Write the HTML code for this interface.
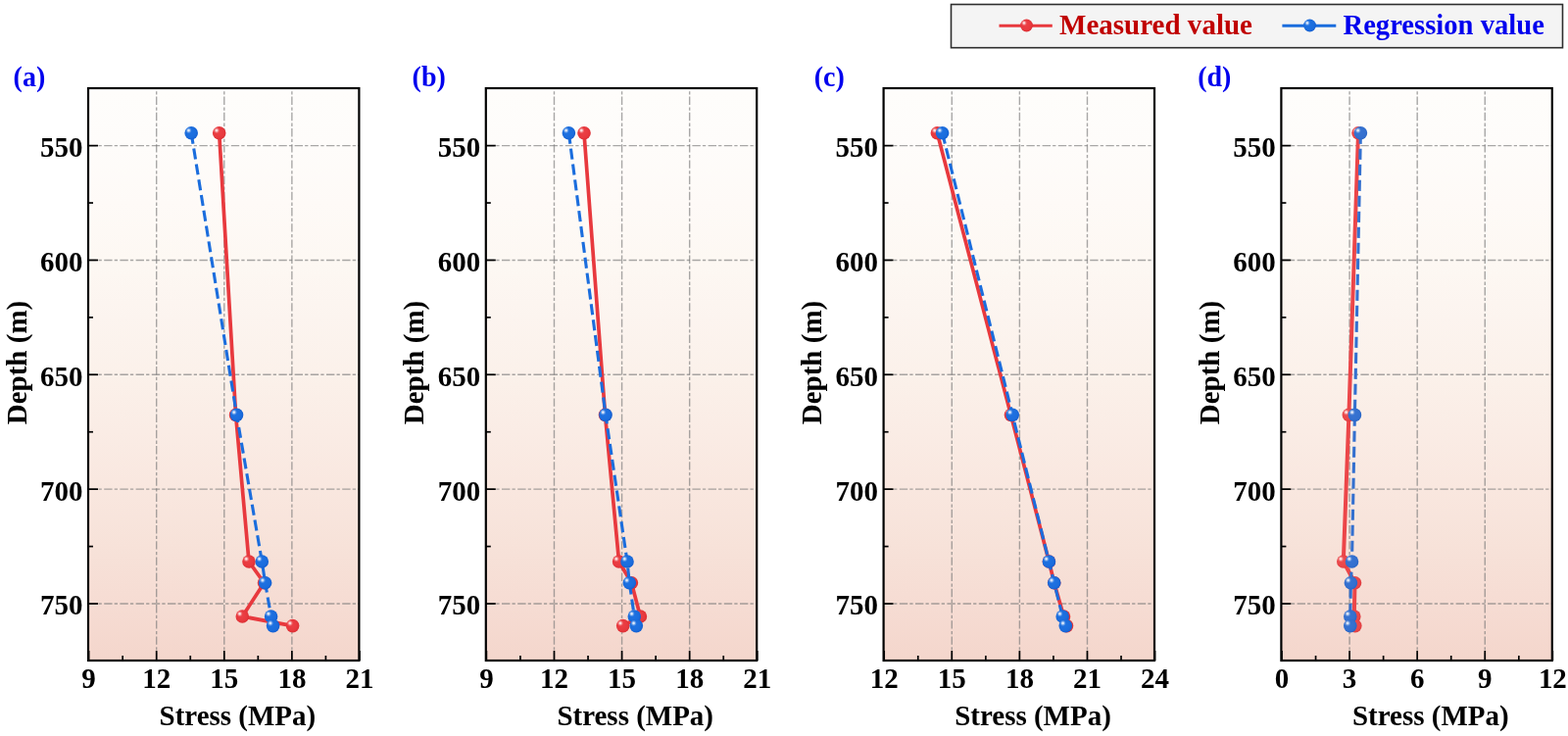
<!DOCTYPE html><html><head><meta charset="utf-8"><style>html,body{margin:0;padding:0;background:#fff;width:1600px;height:751px;overflow:hidden}svg{display:block}text{font-family:"Liberation Serif","Times New Roman",serif;font-weight:bold}</style></head><body>
<svg width="1600" height="751" viewBox="0 0 1600 751">
<defs>
<linearGradient id="bg" x1="0" y1="0" x2="0" y2="1"><stop offset="0.00" stop-color="rgb(254,253,251)"/><stop offset="0.10" stop-color="rgb(254,252,250)"/><stop offset="0.20" stop-color="rgb(254,250,247)"/><stop offset="0.30" stop-color="rgb(253,248,243)"/><stop offset="0.40" stop-color="rgb(252,244,239)"/><stop offset="0.50" stop-color="rgb(251,241,234)"/><stop offset="0.60" stop-color="rgb(250,236,229)"/><stop offset="0.70" stop-color="rgb(249,231,223)"/><stop offset="0.80" stop-color="rgb(247,226,217)"/><stop offset="0.90" stop-color="rgb(246,220,211)"/><stop offset="1.00" stop-color="rgb(244,214,204)"/></linearGradient>
<radialGradient id="gr" cx="0.45" cy="0.45" r="0.55"><stop offset="0" stop-color="#ec4146"/><stop offset="0.7" stop-color="#e8393e"/><stop offset="1" stop-color="#dc2f34"/></radialGradient>
<radialGradient id="gb" cx="0.45" cy="0.45" r="0.55"><stop offset="0" stop-color="#1f72e2"/><stop offset="0.7" stop-color="#1b6ddd"/><stop offset="1" stop-color="#135fd2"/></radialGradient>
<radialGradient id="gr2" cx="0.45" cy="0.45" r="0.55"><stop offset="0" stop-color="#ee4d50"/><stop offset="0.7" stop-color="#ea474a"/><stop offset="1" stop-color="#e03c40"/></radialGradient>
<radialGradient id="gb2" cx="0.45" cy="0.45" r="0.55"><stop offset="0" stop-color="#3874d2"/><stop offset="0.7" stop-color="#3470cf"/><stop offset="1" stop-color="#2a66c6"/></radialGradient>
<radialGradient id="hl" cx="0.5" cy="0.5" r="0.5"><stop offset="0" stop-color="#fff" stop-opacity="0.95"/><stop offset="0.3" stop-color="#fff" stop-opacity="0.75"/><stop offset="0.6" stop-color="#fff" stop-opacity="0.3"/><stop offset="1" stop-color="#fff" stop-opacity="0"/></radialGradient>
</defs>
<rect x="970.5" y="4.5" width="624" height="44.2" fill="#f4f4f4" stroke="#2e2e2e" stroke-width="1.6"/>
<line x1="1019.5" y1="26.2" x2="1073.8" y2="26.2" stroke="#e8393e" stroke-width="2.9"/>
<circle cx="1047.50" cy="26.00" r="6.4" fill="url(#gr)"/><circle cx="1044.94" cy="23.44" r="3.01" fill="url(#hl)"/>
<text transform="translate(1081,35.2) scale(1,1.02)" font-size="28.9" fill="#c00000" textLength="197" lengthAdjust="spacingAndGlyphs">Measured value</text>
<line x1="1308.4" y1="26.2" x2="1363.3" y2="26.2" stroke="#1b6ddd" stroke-width="2.9"/>
<circle cx="1336.50" cy="26.00" r="6.4" fill="url(#gb)"/><circle cx="1333.94" cy="23.44" r="3.01" fill="url(#hl)"/>
<text transform="translate(1370.5,35.2) scale(1,1.02)" font-size="28.9" fill="#0000ee" textLength="205.4" lengthAdjust="spacingAndGlyphs">Regression value</text>
<rect x="90" y="90" width="276.4" height="584" fill="url(#bg)"/>
<line x1="159.69" y1="674" x2="159.69" y2="90" stroke="#7a7a7a" stroke-opacity="0.65" stroke-width="1.4" stroke-dasharray="8.4 2.1 3.3 2.4"/>
<line x1="228.78" y1="674" x2="228.78" y2="90" stroke="#7a7a7a" stroke-opacity="0.65" stroke-width="1.4" stroke-dasharray="8.4 2.1 3.3 2.4"/>
<line x1="297.87" y1="674" x2="297.87" y2="90" stroke="#7a7a7a" stroke-opacity="0.65" stroke-width="1.4" stroke-dasharray="8.4 2.1 3.3 2.4"/>
<line x1="90" y1="148.60" x2="366.4" y2="148.60" stroke="#7a7a7a" stroke-opacity="0.65" stroke-width="1.4" stroke-dasharray="8.4 2.1 3.3 2.4"/>
<line x1="90" y1="265.45" x2="366.4" y2="265.45" stroke="#7a7a7a" stroke-opacity="0.65" stroke-width="1.4" stroke-dasharray="8.4 2.1 3.3 2.4"/>
<line x1="90" y1="382.30" x2="366.4" y2="382.30" stroke="#7a7a7a" stroke-opacity="0.65" stroke-width="1.4" stroke-dasharray="8.4 2.1 3.3 2.4"/>
<line x1="90" y1="499.15" x2="366.4" y2="499.15" stroke="#7a7a7a" stroke-opacity="0.65" stroke-width="1.4" stroke-dasharray="8.4 2.1 3.3 2.4"/>
<line x1="90" y1="616.00" x2="366.4" y2="616.00" stroke="#7a7a7a" stroke-opacity="0.65" stroke-width="1.4" stroke-dasharray="8.4 2.1 3.3 2.4"/>
<line x1="90.60" y1="674" x2="90.60" y2="664" stroke="#000" stroke-width="1.7"/>
<text transform="translate(90.60,702.3) scale(1,1.045)" font-size="29" text-anchor="middle" fill="#000">9</text>
<line x1="159.69" y1="674" x2="159.69" y2="664" stroke="#000" stroke-width="1.7"/>
<text transform="translate(159.69,702.3) scale(1,1.045)" font-size="29" text-anchor="middle" fill="#000">12</text>
<line x1="228.78" y1="674" x2="228.78" y2="664" stroke="#000" stroke-width="1.7"/>
<text transform="translate(228.78,702.3) scale(1,1.045)" font-size="29" text-anchor="middle" fill="#000">15</text>
<line x1="297.87" y1="674" x2="297.87" y2="664" stroke="#000" stroke-width="1.7"/>
<text transform="translate(297.87,702.3) scale(1,1.045)" font-size="29" text-anchor="middle" fill="#000">18</text>
<line x1="366.96" y1="674" x2="366.96" y2="664" stroke="#000" stroke-width="1.7"/>
<text transform="translate(366.96,702.3) scale(1,1.045)" font-size="29" text-anchor="middle" fill="#000">21</text>
<line x1="125.14" y1="674" x2="125.14" y2="669" stroke="#000" stroke-width="1.7"/>
<line x1="194.24" y1="674" x2="194.24" y2="669" stroke="#000" stroke-width="1.7"/>
<line x1="263.33" y1="674" x2="263.33" y2="669" stroke="#000" stroke-width="1.7"/>
<line x1="332.41" y1="674" x2="332.41" y2="669" stroke="#000" stroke-width="1.7"/>
<line x1="90" y1="148.60" x2="100" y2="148.60" stroke="#000" stroke-width="1.7"/>
<text transform="translate(84.40,160.00) scale(1,1.045)" font-size="29" text-anchor="end" fill="#000">550</text>
<line x1="90" y1="265.45" x2="100" y2="265.45" stroke="#000" stroke-width="1.7"/>
<text transform="translate(84.40,276.85) scale(1,1.045)" font-size="29" text-anchor="end" fill="#000">600</text>
<line x1="90" y1="382.30" x2="100" y2="382.30" stroke="#000" stroke-width="1.7"/>
<text transform="translate(84.40,393.70) scale(1,1.045)" font-size="29" text-anchor="end" fill="#000">650</text>
<line x1="90" y1="499.15" x2="100" y2="499.15" stroke="#000" stroke-width="1.7"/>
<text transform="translate(84.40,510.55) scale(1,1.045)" font-size="29" text-anchor="end" fill="#000">700</text>
<line x1="90" y1="616.00" x2="100" y2="616.00" stroke="#000" stroke-width="1.7"/>
<text transform="translate(84.40,627.40) scale(1,1.045)" font-size="29" text-anchor="end" fill="#000">750</text>
<line x1="90" y1="207.03" x2="95" y2="207.03" stroke="#000" stroke-width="1.7"/>
<line x1="90" y1="323.88" x2="95" y2="323.88" stroke="#000" stroke-width="1.7"/>
<line x1="90" y1="440.73" x2="95" y2="440.73" stroke="#000" stroke-width="1.7"/>
<line x1="90" y1="557.58" x2="95" y2="557.58" stroke="#000" stroke-width="1.7"/>
<rect x="90" y="90" width="276.4" height="584" fill="none" stroke="#000" stroke-width="2.2"/>
<polyline points="223.70,135.80 240.60,423.40 254.00,573.00 269.50,594.80 247.30,629.00 298.60,638.60" fill="none" stroke="#e8393e" stroke-width="3.7" stroke-linejoin="round"/>
<circle cx="223.70" cy="135.80" r="6.8" fill="url(#gr)"/><circle cx="220.98" cy="133.08" r="3.20" fill="url(#hl)"/>
<circle cx="240.60" cy="423.40" r="6.8" fill="url(#gr)"/><circle cx="237.88" cy="420.68" r="3.20" fill="url(#hl)"/>
<circle cx="254.00" cy="573.00" r="6.8" fill="url(#gr)"/><circle cx="251.28" cy="570.28" r="3.20" fill="url(#hl)"/>
<circle cx="269.50" cy="594.80" r="6.8" fill="url(#gr)"/><circle cx="266.78" cy="592.08" r="3.20" fill="url(#hl)"/>
<circle cx="247.30" cy="629.00" r="6.8" fill="url(#gr)"/><circle cx="244.58" cy="626.28" r="3.20" fill="url(#hl)"/>
<circle cx="298.60" cy="638.60" r="6.8" fill="url(#gr)"/><circle cx="295.88" cy="635.88" r="3.20" fill="url(#hl)"/>
<polyline points="195.20,135.80 241.50,423.40 267.30,573.00 270.60,594.80 276.60,629.00 278.60,638.60" fill="none" stroke="#1b6ddd" stroke-width="3.1" stroke-dasharray="11.1 4.9" stroke-linejoin="round"/>
<circle cx="195.20" cy="135.80" r="6.8" fill="url(#gb)"/><circle cx="192.48" cy="133.08" r="3.20" fill="url(#hl)"/>
<circle cx="241.50" cy="423.40" r="6.8" fill="url(#gb)"/><circle cx="238.78" cy="420.68" r="3.20" fill="url(#hl)"/>
<circle cx="267.30" cy="573.00" r="6.8" fill="url(#gb)"/><circle cx="264.58" cy="570.28" r="3.20" fill="url(#hl)"/>
<circle cx="270.60" cy="594.80" r="6.8" fill="url(#gb)"/><circle cx="267.88" cy="592.08" r="3.20" fill="url(#hl)"/>
<circle cx="276.60" cy="629.00" r="6.8" fill="url(#gb)"/><circle cx="273.88" cy="626.28" r="3.20" fill="url(#hl)"/>
<circle cx="278.60" cy="638.60" r="6.8" fill="url(#gb)"/><circle cx="275.88" cy="635.88" r="3.20" fill="url(#hl)"/>
<text transform="translate(242.40,740.2) scale(1,1.045)" font-size="29" text-anchor="middle" fill="#000">Stress (MPa)</text>
<text transform="translate(26.60,370) rotate(-90) scale(1,1.045)" font-size="29" text-anchor="middle" fill="#000">Depth (m)</text>
<text transform="translate(13.6,88.2) scale(1,1.02)" font-size="28" fill="#0000ee">(a)</text>
<rect x="495.8" y="90" width="276.4" height="584" fill="url(#bg)"/>
<line x1="565.49" y1="674" x2="565.49" y2="90" stroke="#7a7a7a" stroke-opacity="0.65" stroke-width="1.4" stroke-dasharray="8.4 2.1 3.3 2.4"/>
<line x1="634.58" y1="674" x2="634.58" y2="90" stroke="#7a7a7a" stroke-opacity="0.65" stroke-width="1.4" stroke-dasharray="8.4 2.1 3.3 2.4"/>
<line x1="703.67" y1="674" x2="703.67" y2="90" stroke="#7a7a7a" stroke-opacity="0.65" stroke-width="1.4" stroke-dasharray="8.4 2.1 3.3 2.4"/>
<line x1="495.8" y1="148.60" x2="772.2" y2="148.60" stroke="#7a7a7a" stroke-opacity="0.65" stroke-width="1.4" stroke-dasharray="8.4 2.1 3.3 2.4"/>
<line x1="495.8" y1="265.45" x2="772.2" y2="265.45" stroke="#7a7a7a" stroke-opacity="0.65" stroke-width="1.4" stroke-dasharray="8.4 2.1 3.3 2.4"/>
<line x1="495.8" y1="382.30" x2="772.2" y2="382.30" stroke="#7a7a7a" stroke-opacity="0.65" stroke-width="1.4" stroke-dasharray="8.4 2.1 3.3 2.4"/>
<line x1="495.8" y1="499.15" x2="772.2" y2="499.15" stroke="#7a7a7a" stroke-opacity="0.65" stroke-width="1.4" stroke-dasharray="8.4 2.1 3.3 2.4"/>
<line x1="495.8" y1="616.00" x2="772.2" y2="616.00" stroke="#7a7a7a" stroke-opacity="0.65" stroke-width="1.4" stroke-dasharray="8.4 2.1 3.3 2.4"/>
<line x1="496.40" y1="674" x2="496.40" y2="664" stroke="#000" stroke-width="1.7"/>
<text transform="translate(496.40,702.3) scale(1,1.045)" font-size="29" text-anchor="middle" fill="#000">9</text>
<line x1="565.49" y1="674" x2="565.49" y2="664" stroke="#000" stroke-width="1.7"/>
<text transform="translate(565.49,702.3) scale(1,1.045)" font-size="29" text-anchor="middle" fill="#000">12</text>
<line x1="634.58" y1="674" x2="634.58" y2="664" stroke="#000" stroke-width="1.7"/>
<text transform="translate(634.58,702.3) scale(1,1.045)" font-size="29" text-anchor="middle" fill="#000">15</text>
<line x1="703.67" y1="674" x2="703.67" y2="664" stroke="#000" stroke-width="1.7"/>
<text transform="translate(703.67,702.3) scale(1,1.045)" font-size="29" text-anchor="middle" fill="#000">18</text>
<line x1="772.76" y1="674" x2="772.76" y2="664" stroke="#000" stroke-width="1.7"/>
<text transform="translate(772.76,702.3) scale(1,1.045)" font-size="29" text-anchor="middle" fill="#000">21</text>
<line x1="530.95" y1="674" x2="530.95" y2="669" stroke="#000" stroke-width="1.7"/>
<line x1="600.04" y1="674" x2="600.04" y2="669" stroke="#000" stroke-width="1.7"/>
<line x1="669.12" y1="674" x2="669.12" y2="669" stroke="#000" stroke-width="1.7"/>
<line x1="738.22" y1="674" x2="738.22" y2="669" stroke="#000" stroke-width="1.7"/>
<line x1="495.8" y1="148.60" x2="505.8" y2="148.60" stroke="#000" stroke-width="1.7"/>
<text transform="translate(490.20,160.00) scale(1,1.045)" font-size="29" text-anchor="end" fill="#000">550</text>
<line x1="495.8" y1="265.45" x2="505.8" y2="265.45" stroke="#000" stroke-width="1.7"/>
<text transform="translate(490.20,276.85) scale(1,1.045)" font-size="29" text-anchor="end" fill="#000">600</text>
<line x1="495.8" y1="382.30" x2="505.8" y2="382.30" stroke="#000" stroke-width="1.7"/>
<text transform="translate(490.20,393.70) scale(1,1.045)" font-size="29" text-anchor="end" fill="#000">650</text>
<line x1="495.8" y1="499.15" x2="505.8" y2="499.15" stroke="#000" stroke-width="1.7"/>
<text transform="translate(490.20,510.55) scale(1,1.045)" font-size="29" text-anchor="end" fill="#000">700</text>
<line x1="495.8" y1="616.00" x2="505.8" y2="616.00" stroke="#000" stroke-width="1.7"/>
<text transform="translate(490.20,627.40) scale(1,1.045)" font-size="29" text-anchor="end" fill="#000">750</text>
<line x1="495.8" y1="207.03" x2="500.8" y2="207.03" stroke="#000" stroke-width="1.7"/>
<line x1="495.8" y1="323.88" x2="500.8" y2="323.88" stroke="#000" stroke-width="1.7"/>
<line x1="495.8" y1="440.73" x2="500.8" y2="440.73" stroke="#000" stroke-width="1.7"/>
<line x1="495.8" y1="557.58" x2="500.8" y2="557.58" stroke="#000" stroke-width="1.7"/>
<rect x="495.8" y="90" width="276.4" height="584" fill="none" stroke="#000" stroke-width="2.2"/>
<polyline points="596.00,135.80 617.50,423.40 631.60,573.00 644.40,594.80 653.40,629.00 635.70,638.60" fill="none" stroke="#e8393e" stroke-width="3.7" stroke-linejoin="round"/>
<circle cx="596.00" cy="135.80" r="6.8" fill="url(#gr)"/><circle cx="593.28" cy="133.08" r="3.20" fill="url(#hl)"/>
<circle cx="617.50" cy="423.40" r="6.8" fill="url(#gr)"/><circle cx="614.78" cy="420.68" r="3.20" fill="url(#hl)"/>
<circle cx="631.60" cy="573.00" r="6.8" fill="url(#gr)"/><circle cx="628.88" cy="570.28" r="3.20" fill="url(#hl)"/>
<circle cx="644.40" cy="594.80" r="6.8" fill="url(#gr)"/><circle cx="641.68" cy="592.08" r="3.20" fill="url(#hl)"/>
<circle cx="653.40" cy="629.00" r="6.8" fill="url(#gr)"/><circle cx="650.68" cy="626.28" r="3.20" fill="url(#hl)"/>
<circle cx="635.70" cy="638.60" r="6.8" fill="url(#gr)"/><circle cx="632.98" cy="635.88" r="3.20" fill="url(#hl)"/>
<polyline points="580.40,135.80 618.00,423.40 640.00,573.00 642.30,594.80 647.30,629.00 649.30,638.60" fill="none" stroke="#1b6ddd" stroke-width="3.1" stroke-dasharray="11.1 4.9" stroke-linejoin="round"/>
<circle cx="580.40" cy="135.80" r="6.8" fill="url(#gb)"/><circle cx="577.68" cy="133.08" r="3.20" fill="url(#hl)"/>
<circle cx="618.00" cy="423.40" r="6.8" fill="url(#gb)"/><circle cx="615.28" cy="420.68" r="3.20" fill="url(#hl)"/>
<circle cx="640.00" cy="573.00" r="6.8" fill="url(#gb)"/><circle cx="637.28" cy="570.28" r="3.20" fill="url(#hl)"/>
<circle cx="642.30" cy="594.80" r="6.8" fill="url(#gb)"/><circle cx="639.58" cy="592.08" r="3.20" fill="url(#hl)"/>
<circle cx="647.30" cy="629.00" r="6.8" fill="url(#gb)"/><circle cx="644.58" cy="626.28" r="3.20" fill="url(#hl)"/>
<circle cx="649.30" cy="638.60" r="6.8" fill="url(#gb)"/><circle cx="646.58" cy="635.88" r="3.20" fill="url(#hl)"/>
<text transform="translate(648.20,740.2) scale(1,1.045)" font-size="29" text-anchor="middle" fill="#000">Stress (MPa)</text>
<text transform="translate(432.40,370) rotate(-90) scale(1,1.045)" font-size="29" text-anchor="middle" fill="#000">Depth (m)</text>
<text transform="translate(420.6,88.2) scale(1,1.02)" font-size="28" fill="#0000ee">(b)</text>
<rect x="901.6" y="90" width="276.4" height="584" fill="url(#bg)"/>
<line x1="971.29" y1="674" x2="971.29" y2="90" stroke="#7a7a7a" stroke-opacity="0.65" stroke-width="1.4" stroke-dasharray="8.4 2.1 3.3 2.4"/>
<line x1="1040.38" y1="674" x2="1040.38" y2="90" stroke="#7a7a7a" stroke-opacity="0.65" stroke-width="1.4" stroke-dasharray="8.4 2.1 3.3 2.4"/>
<line x1="1109.47" y1="674" x2="1109.47" y2="90" stroke="#7a7a7a" stroke-opacity="0.65" stroke-width="1.4" stroke-dasharray="8.4 2.1 3.3 2.4"/>
<line x1="901.6" y1="148.60" x2="1178.0" y2="148.60" stroke="#7a7a7a" stroke-opacity="0.65" stroke-width="1.4" stroke-dasharray="8.4 2.1 3.3 2.4"/>
<line x1="901.6" y1="265.45" x2="1178.0" y2="265.45" stroke="#7a7a7a" stroke-opacity="0.65" stroke-width="1.4" stroke-dasharray="8.4 2.1 3.3 2.4"/>
<line x1="901.6" y1="382.30" x2="1178.0" y2="382.30" stroke="#7a7a7a" stroke-opacity="0.65" stroke-width="1.4" stroke-dasharray="8.4 2.1 3.3 2.4"/>
<line x1="901.6" y1="499.15" x2="1178.0" y2="499.15" stroke="#7a7a7a" stroke-opacity="0.65" stroke-width="1.4" stroke-dasharray="8.4 2.1 3.3 2.4"/>
<line x1="901.6" y1="616.00" x2="1178.0" y2="616.00" stroke="#7a7a7a" stroke-opacity="0.65" stroke-width="1.4" stroke-dasharray="8.4 2.1 3.3 2.4"/>
<line x1="902.20" y1="674" x2="902.20" y2="664" stroke="#000" stroke-width="1.7"/>
<text transform="translate(902.20,702.3) scale(1,1.045)" font-size="29" text-anchor="middle" fill="#000">12</text>
<line x1="971.29" y1="674" x2="971.29" y2="664" stroke="#000" stroke-width="1.7"/>
<text transform="translate(971.29,702.3) scale(1,1.045)" font-size="29" text-anchor="middle" fill="#000">15</text>
<line x1="1040.38" y1="674" x2="1040.38" y2="664" stroke="#000" stroke-width="1.7"/>
<text transform="translate(1040.38,702.3) scale(1,1.045)" font-size="29" text-anchor="middle" fill="#000">18</text>
<line x1="1109.47" y1="674" x2="1109.47" y2="664" stroke="#000" stroke-width="1.7"/>
<text transform="translate(1109.47,702.3) scale(1,1.045)" font-size="29" text-anchor="middle" fill="#000">21</text>
<line x1="1178.56" y1="674" x2="1178.56" y2="664" stroke="#000" stroke-width="1.7"/>
<text transform="translate(1178.56,702.3) scale(1,1.045)" font-size="29" text-anchor="middle" fill="#000">24</text>
<line x1="936.75" y1="674" x2="936.75" y2="669" stroke="#000" stroke-width="1.7"/>
<line x1="1005.84" y1="674" x2="1005.84" y2="669" stroke="#000" stroke-width="1.7"/>
<line x1="1074.93" y1="674" x2="1074.93" y2="669" stroke="#000" stroke-width="1.7"/>
<line x1="1144.02" y1="674" x2="1144.02" y2="669" stroke="#000" stroke-width="1.7"/>
<line x1="901.6" y1="148.60" x2="911.6" y2="148.60" stroke="#000" stroke-width="1.7"/>
<text transform="translate(896.00,160.00) scale(1,1.045)" font-size="29" text-anchor="end" fill="#000">550</text>
<line x1="901.6" y1="265.45" x2="911.6" y2="265.45" stroke="#000" stroke-width="1.7"/>
<text transform="translate(896.00,276.85) scale(1,1.045)" font-size="29" text-anchor="end" fill="#000">600</text>
<line x1="901.6" y1="382.30" x2="911.6" y2="382.30" stroke="#000" stroke-width="1.7"/>
<text transform="translate(896.00,393.70) scale(1,1.045)" font-size="29" text-anchor="end" fill="#000">650</text>
<line x1="901.6" y1="499.15" x2="911.6" y2="499.15" stroke="#000" stroke-width="1.7"/>
<text transform="translate(896.00,510.55) scale(1,1.045)" font-size="29" text-anchor="end" fill="#000">700</text>
<line x1="901.6" y1="616.00" x2="911.6" y2="616.00" stroke="#000" stroke-width="1.7"/>
<text transform="translate(896.00,627.40) scale(1,1.045)" font-size="29" text-anchor="end" fill="#000">750</text>
<line x1="901.6" y1="207.03" x2="906.6" y2="207.03" stroke="#000" stroke-width="1.7"/>
<line x1="901.6" y1="323.88" x2="906.6" y2="323.88" stroke="#000" stroke-width="1.7"/>
<line x1="901.6" y1="440.73" x2="906.6" y2="440.73" stroke="#000" stroke-width="1.7"/>
<line x1="901.6" y1="557.58" x2="906.6" y2="557.58" stroke="#000" stroke-width="1.7"/>
<rect x="901.6" y="90" width="276.4" height="584" fill="none" stroke="#000" stroke-width="2.2"/>
<polyline points="956.40,135.80 1031.50,423.40 1070.40,573.00 1075.70,594.80 1085.50,629.00 1088.50,638.60" fill="none" stroke="#e8393e" stroke-width="3.7" stroke-linejoin="round"/>
<circle cx="956.40" cy="135.80" r="6.8" fill="url(#gr)"/><circle cx="953.68" cy="133.08" r="3.20" fill="url(#hl)"/>
<circle cx="1031.50" cy="423.40" r="6.8" fill="url(#gr)"/><circle cx="1028.78" cy="420.68" r="3.20" fill="url(#hl)"/>
<circle cx="1070.40" cy="573.00" r="6.8" fill="url(#gr)"/><circle cx="1067.68" cy="570.28" r="3.20" fill="url(#hl)"/>
<circle cx="1075.70" cy="594.80" r="6.8" fill="url(#gr)"/><circle cx="1072.98" cy="592.08" r="3.20" fill="url(#hl)"/>
<circle cx="1085.50" cy="629.00" r="6.8" fill="url(#gr)"/><circle cx="1082.78" cy="626.28" r="3.20" fill="url(#hl)"/>
<circle cx="1088.50" cy="638.60" r="6.8" fill="url(#gr)"/><circle cx="1085.78" cy="635.88" r="3.20" fill="url(#hl)"/>
<polyline points="961.60,135.80 1033.20,423.40 1070.40,573.00 1075.70,594.80 1084.20,629.00 1087.30,638.60" fill="none" stroke="#1b6ddd" stroke-width="3.1" stroke-dasharray="11.1 4.9" stroke-linejoin="round"/>
<circle cx="961.60" cy="135.80" r="6.8" fill="url(#gb)"/><circle cx="958.88" cy="133.08" r="3.20" fill="url(#hl)"/>
<circle cx="1033.20" cy="423.40" r="6.8" fill="url(#gb)"/><circle cx="1030.48" cy="420.68" r="3.20" fill="url(#hl)"/>
<circle cx="1070.40" cy="573.00" r="6.8" fill="url(#gb)"/><circle cx="1067.68" cy="570.28" r="3.20" fill="url(#hl)"/>
<circle cx="1075.70" cy="594.80" r="6.8" fill="url(#gb)"/><circle cx="1072.98" cy="592.08" r="3.20" fill="url(#hl)"/>
<circle cx="1084.20" cy="629.00" r="6.8" fill="url(#gb)"/><circle cx="1081.48" cy="626.28" r="3.20" fill="url(#hl)"/>
<circle cx="1087.30" cy="638.60" r="6.8" fill="url(#gb)"/><circle cx="1084.58" cy="635.88" r="3.20" fill="url(#hl)"/>
<text transform="translate(1054.00,740.2) scale(1,1.045)" font-size="29" text-anchor="middle" fill="#000">Stress (MPa)</text>
<text transform="translate(838.20,370) rotate(-90) scale(1,1.045)" font-size="29" text-anchor="middle" fill="#000">Depth (m)</text>
<text transform="translate(830.8,88.2) scale(1,1.02)" font-size="28" fill="#0000ee">(c)</text>
<rect x="1307.4" y="90" width="276.4" height="584" fill="url(#bg)"/>
<line x1="1377.09" y1="674" x2="1377.09" y2="90" stroke="#7a7a7a" stroke-opacity="0.65" stroke-width="1.4" stroke-dasharray="8.4 2.1 3.3 2.4"/>
<line x1="1446.18" y1="674" x2="1446.18" y2="90" stroke="#7a7a7a" stroke-opacity="0.65" stroke-width="1.4" stroke-dasharray="8.4 2.1 3.3 2.4"/>
<line x1="1515.27" y1="674" x2="1515.27" y2="90" stroke="#7a7a7a" stroke-opacity="0.65" stroke-width="1.4" stroke-dasharray="8.4 2.1 3.3 2.4"/>
<line x1="1307.4" y1="148.60" x2="1583.8000000000002" y2="148.60" stroke="#7a7a7a" stroke-opacity="0.65" stroke-width="1.4" stroke-dasharray="8.4 2.1 3.3 2.4"/>
<line x1="1307.4" y1="265.45" x2="1583.8000000000002" y2="265.45" stroke="#7a7a7a" stroke-opacity="0.65" stroke-width="1.4" stroke-dasharray="8.4 2.1 3.3 2.4"/>
<line x1="1307.4" y1="382.30" x2="1583.8000000000002" y2="382.30" stroke="#7a7a7a" stroke-opacity="0.65" stroke-width="1.4" stroke-dasharray="8.4 2.1 3.3 2.4"/>
<line x1="1307.4" y1="499.15" x2="1583.8000000000002" y2="499.15" stroke="#7a7a7a" stroke-opacity="0.65" stroke-width="1.4" stroke-dasharray="8.4 2.1 3.3 2.4"/>
<line x1="1307.4" y1="616.00" x2="1583.8000000000002" y2="616.00" stroke="#7a7a7a" stroke-opacity="0.65" stroke-width="1.4" stroke-dasharray="8.4 2.1 3.3 2.4"/>
<line x1="1308.00" y1="674" x2="1308.00" y2="664" stroke="#000" stroke-width="1.7"/>
<text transform="translate(1308.00,702.3) scale(1,1.045)" font-size="29" text-anchor="middle" fill="#000">0</text>
<line x1="1377.09" y1="674" x2="1377.09" y2="664" stroke="#000" stroke-width="1.7"/>
<text transform="translate(1377.09,702.3) scale(1,1.045)" font-size="29" text-anchor="middle" fill="#000">3</text>
<line x1="1446.18" y1="674" x2="1446.18" y2="664" stroke="#000" stroke-width="1.7"/>
<text transform="translate(1446.18,702.3) scale(1,1.045)" font-size="29" text-anchor="middle" fill="#000">6</text>
<line x1="1515.27" y1="674" x2="1515.27" y2="664" stroke="#000" stroke-width="1.7"/>
<text transform="translate(1515.27,702.3) scale(1,1.045)" font-size="29" text-anchor="middle" fill="#000">9</text>
<line x1="1584.36" y1="674" x2="1584.36" y2="664" stroke="#000" stroke-width="1.7"/>
<text transform="translate(1584.36,702.3) scale(1,1.045)" font-size="29" text-anchor="middle" fill="#000">12</text>
<line x1="1342.55" y1="674" x2="1342.55" y2="669" stroke="#000" stroke-width="1.7"/>
<line x1="1411.63" y1="674" x2="1411.63" y2="669" stroke="#000" stroke-width="1.7"/>
<line x1="1480.72" y1="674" x2="1480.72" y2="669" stroke="#000" stroke-width="1.7"/>
<line x1="1549.82" y1="674" x2="1549.82" y2="669" stroke="#000" stroke-width="1.7"/>
<line x1="1307.4" y1="148.60" x2="1317.4" y2="148.60" stroke="#000" stroke-width="1.7"/>
<text transform="translate(1301.80,160.00) scale(1,1.045)" font-size="29" text-anchor="end" fill="#000">550</text>
<line x1="1307.4" y1="265.45" x2="1317.4" y2="265.45" stroke="#000" stroke-width="1.7"/>
<text transform="translate(1301.80,276.85) scale(1,1.045)" font-size="29" text-anchor="end" fill="#000">600</text>
<line x1="1307.4" y1="382.30" x2="1317.4" y2="382.30" stroke="#000" stroke-width="1.7"/>
<text transform="translate(1301.80,393.70) scale(1,1.045)" font-size="29" text-anchor="end" fill="#000">650</text>
<line x1="1307.4" y1="499.15" x2="1317.4" y2="499.15" stroke="#000" stroke-width="1.7"/>
<text transform="translate(1301.80,510.55) scale(1,1.045)" font-size="29" text-anchor="end" fill="#000">700</text>
<line x1="1307.4" y1="616.00" x2="1317.4" y2="616.00" stroke="#000" stroke-width="1.7"/>
<text transform="translate(1301.80,627.40) scale(1,1.045)" font-size="29" text-anchor="end" fill="#000">750</text>
<line x1="1307.4" y1="207.03" x2="1312.4" y2="207.03" stroke="#000" stroke-width="1.7"/>
<line x1="1307.4" y1="323.88" x2="1312.4" y2="323.88" stroke="#000" stroke-width="1.7"/>
<line x1="1307.4" y1="440.73" x2="1312.4" y2="440.73" stroke="#000" stroke-width="1.7"/>
<line x1="1307.4" y1="557.58" x2="1312.4" y2="557.58" stroke="#000" stroke-width="1.7"/>
<rect x="1307.4" y="90" width="276.4" height="584" fill="none" stroke="#000" stroke-width="2.2"/>
<polyline points="1386.00,135.80 1376.40,423.40 1370.80,573.00 1382.50,594.80 1381.80,629.00 1382.80,638.60" fill="none" stroke="#ec4649" stroke-width="4.0" stroke-linejoin="round"/>
<circle cx="1386.00" cy="135.80" r="6.8" fill="url(#gr2)"/><circle cx="1383.28" cy="133.08" r="3.20" fill="url(#hl)"/>
<circle cx="1376.40" cy="423.40" r="6.8" fill="url(#gr2)"/><circle cx="1373.68" cy="420.68" r="3.20" fill="url(#hl)"/>
<circle cx="1370.80" cy="573.00" r="6.8" fill="url(#gr2)"/><circle cx="1368.08" cy="570.28" r="3.20" fill="url(#hl)"/>
<circle cx="1382.50" cy="594.80" r="6.8" fill="url(#gr2)"/><circle cx="1379.78" cy="592.08" r="3.20" fill="url(#hl)"/>
<circle cx="1381.80" cy="629.00" r="6.8" fill="url(#gr2)"/><circle cx="1379.08" cy="626.28" r="3.20" fill="url(#hl)"/>
<circle cx="1382.80" cy="638.60" r="6.8" fill="url(#gr2)"/><circle cx="1380.08" cy="635.88" r="3.20" fill="url(#hl)"/>
<polyline points="1388.40,135.80 1382.40,423.40 1379.50,573.00 1378.40,594.80 1377.80,629.00 1377.80,638.60" fill="none" stroke="#3470cf" stroke-width="3.1" stroke-dasharray="11.1 4.9" stroke-linejoin="round"/>
<circle cx="1388.40" cy="135.80" r="6.8" fill="url(#gb2)"/><circle cx="1385.68" cy="133.08" r="3.20" fill="url(#hl)"/>
<circle cx="1382.40" cy="423.40" r="6.8" fill="url(#gb2)"/><circle cx="1379.68" cy="420.68" r="3.20" fill="url(#hl)"/>
<circle cx="1379.50" cy="573.00" r="6.8" fill="url(#gb2)"/><circle cx="1376.78" cy="570.28" r="3.20" fill="url(#hl)"/>
<circle cx="1378.40" cy="594.80" r="6.8" fill="url(#gb2)"/><circle cx="1375.68" cy="592.08" r="3.20" fill="url(#hl)"/>
<circle cx="1377.80" cy="629.00" r="6.8" fill="url(#gb2)"/><circle cx="1375.08" cy="626.28" r="3.20" fill="url(#hl)"/>
<circle cx="1377.80" cy="638.60" r="6.8" fill="url(#gb2)"/><circle cx="1375.08" cy="635.88" r="3.20" fill="url(#hl)"/>
<text transform="translate(1459.80,740.2) scale(1,1.045)" font-size="29" text-anchor="middle" fill="#000">Stress (MPa)</text>
<text transform="translate(1244.00,370) rotate(-90) scale(1,1.045)" font-size="29" text-anchor="middle" fill="#000">Depth (m)</text>
<text transform="translate(1222.2,88.2) scale(1,1.02)" font-size="28" fill="#0000ee">(d)</text>
</svg></body></html>
